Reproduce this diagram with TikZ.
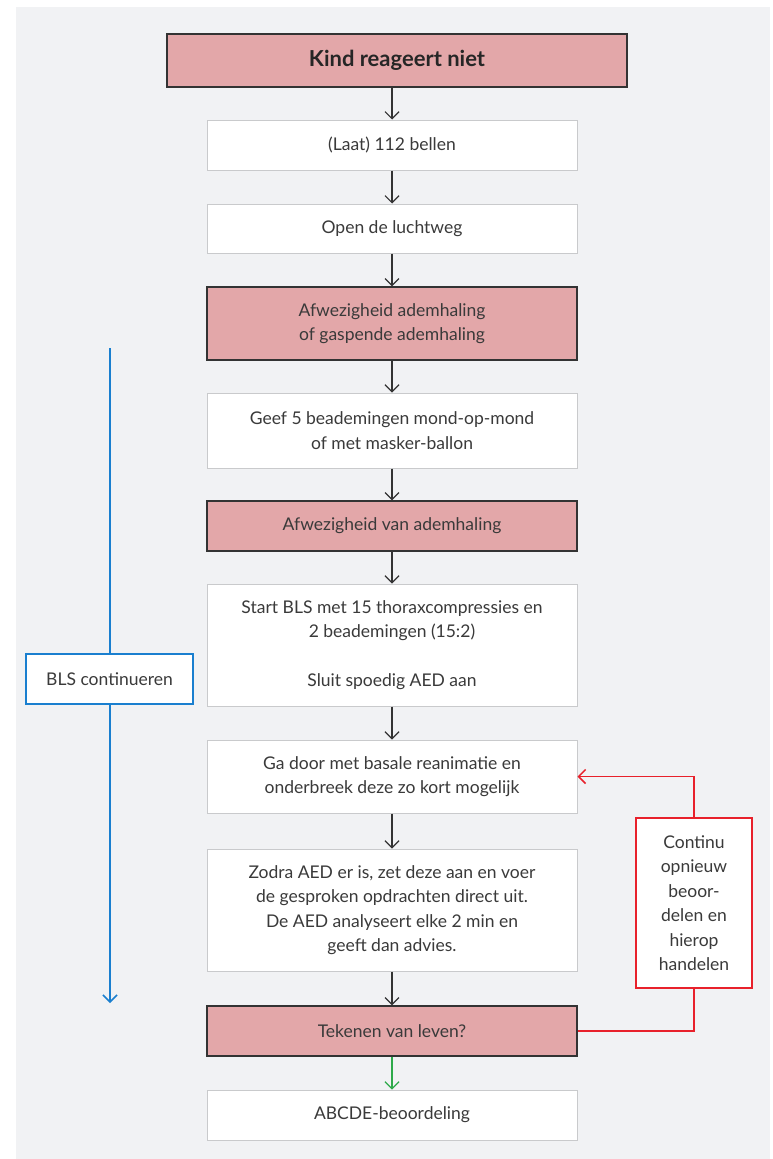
\documentclass[tikz,border=0pt]{standalone}
\usepackage{fontspec}
\setmainfont{Lato}
\usetikzlibrary{arrows.meta}
\definecolor{bgc}{HTML}{F1F2F4}
\definecolor{pinkc}{HTML}{E3A7A9}
\definecolor{darkc}{HTML}{333333}
\definecolor{greyb}{HTML}{C9CACC}
\definecolor{bluec}{HTML}{1A7FCF}
\definecolor{redc}{HTML}{E8212B}
\definecolor{greenc}{HTML}{2EAA4A}
\definecolor{txt}{HTML}{3A3A3A}
\tikzset{
  base/.style={minimum width=370pt, inner sep=0pt, align=center, text=txt,
    font=\fontsize{17.5}{24.5}\selectfont},
  whitebox/.style={base, draw=greyb, line width=1pt, fill=white},
  pinkbox/.style={base, draw=darkc, line width=1.2pt, fill=pinkc},
  arr/.style={-{Straight Barb[length=7pt,width=14pt]}, line width=1.2pt, draw=darkc},
}
\begin{document}
\begin{tikzpicture}[x=1pt,y=-1pt]
\useasboundingbox (0,0) rectangle (772,1159);
\fill[bgc] (16,7) rectangle (770,1159);
\node[pinkbox, minimum width=460pt, minimum height=53pt, font=\fontsize{22}{24}\selectfont\bfseries, text=black!85] (n1) at (397,60.5) {Kind reageert niet};
\node[whitebox, minimum height=50pt] (n2) at (392,145) {(Laat) 112 bellen};
\node[whitebox, minimum height=49pt] (n3) at (392,228.5) {Open de luchtweg};
\node[pinkbox, minimum height=73pt] (n4) at (392,323.5) {Afwezigheid ademhaling\\of gaspende ademhaling};
\node[whitebox, minimum height=75pt] (n5) at (392,430.5) {Geef 5 beademingen mond-op-mond\\of met masker-ballon};
\node[pinkbox, minimum height=50pt] (n6) at (392,526) {Afwezigheid van ademhaling};
\node[whitebox, minimum height=122pt] (n7) at (392,645) {Start BLS met 15 thoraxcompressies en\\2 beademingen (15:2)\\[24pt]Sluit spoedig AED aan};
\node[whitebox, minimum height=73pt] (n8) at (392,776.5) {Ga door met basale reanimatie en\\onderbreek deze zo kort mogelijk};
\node[whitebox, minimum height=122pt] (n9) at (392,910) {Zodra AED er is, zet deze aan en voer\\de gesproken opdrachten direct uit.\\De AED analyseert elke 2 min en\\geeft dan advies.};
\node[pinkbox, minimum height=50pt] (n10) at (392,1031) {Tekenen van leven?};
\node[whitebox, minimum height=50pt] (n11) at (392,1115) {ABCDE-beoordeling};
% side boxes
\node[base, draw=bluec, line width=1.2pt, fill=white, minimum width=167pt, minimum height=50pt] (bls) at (109.5,679) {BLS continueren};
\node[base, draw=redc, line width=1.2pt, fill=white, minimum width=116pt, minimum height=170pt] (cont) at (694,903) {Continu\\opnieuw\\beoor-\\delen en\\hierop\\handelen};
% main arrows
\draw[arr] (n1.south -| n2.north) -- (n2.north);
\draw[arr] (n2) -- (n3);
\draw[arr] (n3) -- (n4);
\draw[arr] (n4) -- (n5);
\draw[arr] (n5) -- (n6);
\draw[arr] (n6) -- (n7);
\draw[arr] (n7) -- (n8);
\draw[arr] (n8) -- (n9);
\draw[arr] (n9) -- (n10);
\draw[arr, draw=greenc] (n10) -- (n11);
% blue line
\coordinate (btop) at (110,348);
\coordinate (bend) at (110,1003);
\draw[line width=1.5pt, bluec] (btop) -- (bls.north -| btop);
\draw[arr, draw=bluec, line width=1.5pt] (bls.south -| btop) -- (bend);
% red loop
\draw[line width=1.5pt, redc] (n10.east) -| (cont.south);
\draw[arr, draw=redc, line width=1.5pt] (cont.north) |- (n8.east);
\end{tikzpicture}
\end{document}
